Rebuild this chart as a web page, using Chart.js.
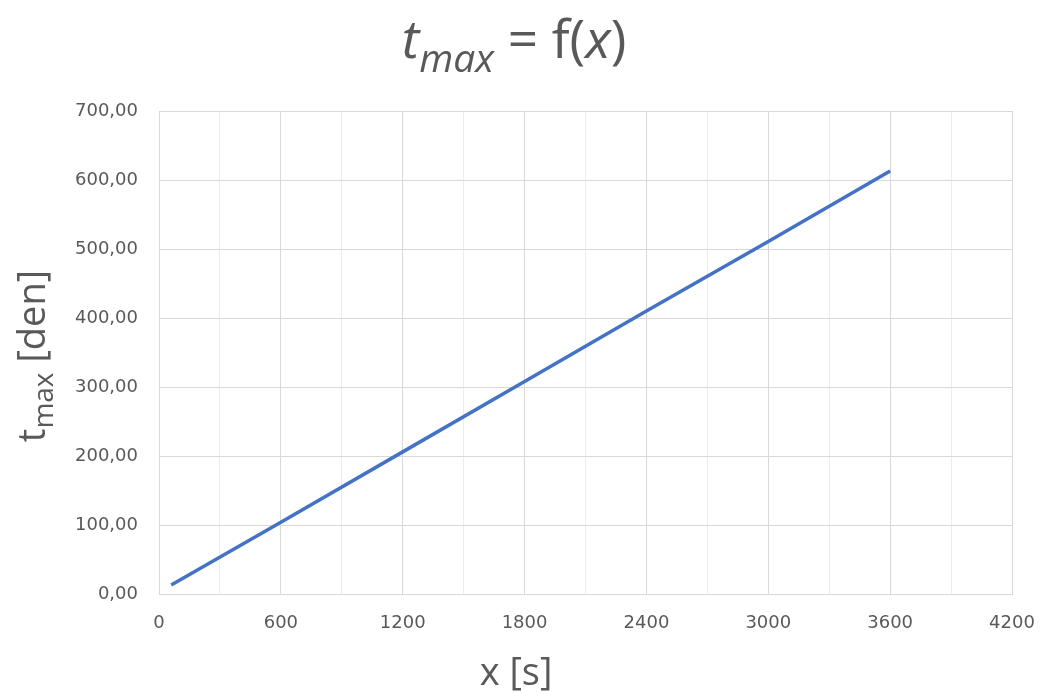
<!DOCTYPE html>
<html>
<head>
<meta charset="utf-8">
<script src="https://cdn.jsdelivr.net/npm/chart.js@4/dist/chart.umd.min.js"></script>
<style>
html,body{margin:0;padding:0;background:#fff;}
#wrap{width:1040px;height:693px;position:relative;}
</style>
</head>
<body>
<div id="wrap"><canvas id="c" width="1040" height="693"></canvas></div>
<script>
const xValues = [60, 600, 1200, 1800, 2400, 3000, 3600];
const tValues = [13, 104, 206, 308, 410, 511, 613];
const xTickStep = 300;
const xLabelStep = 600;
const yMax = 700;
const xMax = 4200;

const txtColor = '#595959';
const fontFam = '"Open Sans", "Noto Sans", sans-serif';
const tickFam = '"DejaVu Sans", sans-serif';

const titlePlugin = {
  id: 'richTitles',
  afterDraw(chart) {
    const ctx = chart.ctx;
    ctx.save();
    ctx.fillStyle = txtColor;
    ctx.textBaseline = 'alphabetic';
    const segs = [
      {t:'t', f:'italic 53px ' + fontFam, dy:0},
      {t:'max', f:'italic 39px ' + fontFam, dy:14},
      {t:' = f(', f:'53px ' + fontFam, dy:0},
      {t:'x', f:'italic 53px ' + fontFam, dy:0},
      {t:')', f:'53px ' + fontFam, dy:0}
    ];
    drawRich(ctx, segs, 514, 58);
    ctx.font = '38px ' + fontFam;
    ctx.textAlign = 'center';
    ctx.fillText('x [s]', 516, 685);
    ctx.translate(45, 356);
    ctx.rotate(-Math.PI/2);
    const ysegs = [
      {t:'t', f:'38px ' + fontFam, dy:0},
      {t:'max', f:'28px ' + fontFam, dy:8},
      {t:' [den]', f:'38px ' + fontFam, dy:0}
    ];
    drawRich(ctx, ysegs, 0, 0);
    ctx.restore();
  }
};
function drawRich(ctx, segs, cx, baseY) {
  let total = 0;
  segs.forEach(s => { ctx.font = s.f; s.w = ctx.measureText(s.t).width; total += s.w; });
  let x = cx - total/2;
  ctx.textAlign = 'left';
  segs.forEach(s => { ctx.font = s.f; ctx.fillText(s.t, x, baseY + s.dy); x += s.w; });
}

new Chart(document.getElementById('c'), {
  type: 'scatter',
  data: {
    datasets: [{
      data: xValues.map((x, i) => ({x: x, y: tValues[i]})),
      showLine: true,
      borderColor: '#4472C4',
      backgroundColor: '#4472C4',
      borderWidth: 3.5,
      pointRadius: 0,
      tension: 0
    }]
  },
  options: {
    responsive: false,
    animation: false,
    devicePixelRatio: 1,
    layout: { padding: { top: 111, right: 28, left: 0, bottom: 0 } },
    plugins: { legend: { display: false }, title: { display: false }, tooltip: { enabled: false } },
    scales: {
      x: {
        type: 'linear', min: 0, max: xMax,
        afterFit(s) { s.height = 99; s.paddingRight = 0; s.paddingLeft = 0; },
        border: { color: '#d9d9d9', width: 1 },
        grid: {
          drawTicks: false,
          color: c => (c.tick && c.tick.value % xLabelStep === 0) ? '#d9d9d9' : '#ececec',
          lineWidth: 1
        },
        ticks: {
          stepSize: xTickStep, autoSkip: false, maxRotation: 0, padding: 19,
          color: txtColor, font: { family: tickFam, size: 18 },
          callback: v => (v % xLabelStep === 0) ? String(v) : ''
        }
      },
      y: {
        type: 'linear', min: 0, max: yMax,
        afterFit(s) { s.width = 159; s.paddingTop = 0; s.paddingBottom = 0; },
        border: { color: '#d9d9d9', width: 1 },
        grid: { drawTicks: false, color: '#d9d9d9', lineWidth: 1 },
        ticks: {
          stepSize: 100, padding: 21,
          color: txtColor, font: { family: tickFam, size: 18 },
          callback: v => v.toFixed(2).replace('.', ',')
        }
      }
    }
  },
  plugins: [titlePlugin]
});
</script>
</body>
</html>
